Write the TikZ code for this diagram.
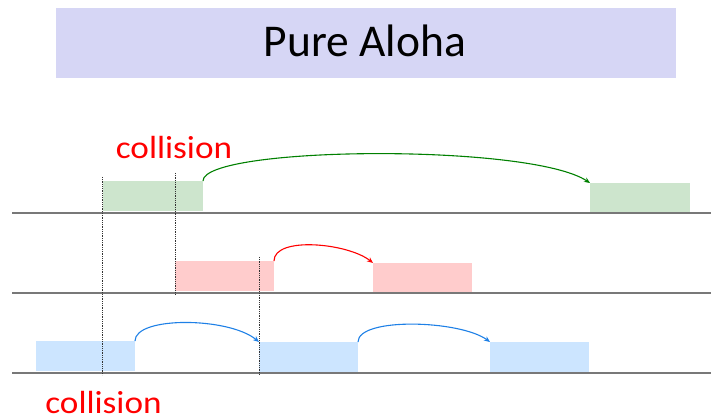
\documentclass[tikz,border=0pt]{standalone}
\usepackage{fontspec}
\setmainfont{Carlito}
\usetikzlibrary{arrows.meta}
\definecolor{titlebg}{RGB}{214,214,245}
\definecolor{gbox}{RGB}{205,229,205}
\definecolor{rbox}{RGB}{255,204,204}
\definecolor{bbox}{RGB}{204,229,255}
\definecolor{garrow}{RGB}{0,128,0}
\definecolor{rarrow}{RGB}{255,0,0}
\definecolor{barrow}{RGB}{30,128,230}
\definecolor{axis}{RGB}{120,120,120}
\begin{document}
\begin{tikzpicture}[x=1pt,y=-1pt,
  frame/.style={inner sep=0pt, outer sep=0pt, anchor=north west, minimum width=#1, minimum height=30pt},
  gfr/.style={frame=100pt, fill=gbox},
  rfr/.style={frame=99pt, fill=rbox},
  bfr/.style={frame=99pt, fill=bbox},
  chan/.style={draw=axis, line width=1.6pt},
  mark line/.style={densely dotted, line width=0.8pt, black!80},
  retx/.style={line width=1.1pt, -{Stealth[length=6pt,width=5pt]}},
  lbl/.style={text=red, font=\fontsize{32}{32}\selectfont, inner sep=0pt, anchor=base}]
\useasboundingbox (0,0) rectangle (711,419);
% title
\node[fill=titlebg, minimum width=620pt, minimum height=70pt, inner sep=0pt, anchor=north west] (title) at (56,8) {};
\node[font=\fontsize{45.5}{45.5}\selectfont, inner sep=0pt, anchor=base] (titletext) at (365,57) {Pure Aloha};
% channel lines
\coordinate (l1a) at (12,213); \coordinate (l1b) at (711,213);
\coordinate (l2a) at (12,293); \coordinate (l2b) at (711,293);
\coordinate (l3a) at (12,373); \coordinate (l3b) at (711,373);
% frames
\node[gfr] (g1) at (103,181) {};
\node[gfr] (g2) at (590,183) {};
\node[rfr] (r1) at (175,261) {};
\node[rfr] (r2) at (373,263) {};
\node[bfr] (b1) at (36,341) {};
\node[bfr] (b2) at (259,342) {};
\node[bfr] (b3) at (490,342) {};
\draw[chan] (l1a) -- (l1b);
\draw[chan] (l2a) -- (l2b);
\draw[chan] (l3a) -- (l3b);
% dotted markers
\coordinate (d1t) at (102,177); \coordinate (d1b) at (102,375);
\coordinate (d2t) at (175,173); \coordinate (d2b) at (175,295);
\coordinate (d3t) at (259,257); \coordinate (d3b) at (259,375);
\draw[mark line] (d1t) -- (d1b);
\draw[mark line] (d2t) -- (d2b);
\draw[mark line] (d3t) -- (d3b);
% retransmission arrows
\draw[retx, garrow] (g1.north east) .. controls ++(0,-35) and ++(-60,-40) .. (g2.north west);
\draw[retx, rarrow] (r1.north east) .. controls ++(0,-25) and ++(-25,-20) .. (r2.north west);
\draw[retx, barrow] (b1.north east) .. controls ++(0,-25) and ++(-30,-25) .. (b2.north west);
\draw[retx, barrow] (b2.north east) .. controls ++(0,-25) and ++(-30,-22) .. (b3.north west);
% labels
\node[lbl] (c1) at (174,159) {\scalebox{1.1}[1]{collision}};
\node[lbl] (c2) at (103.5,413) {\scalebox{1.1}[1]{collision}};
\end{tikzpicture}
\end{document}
